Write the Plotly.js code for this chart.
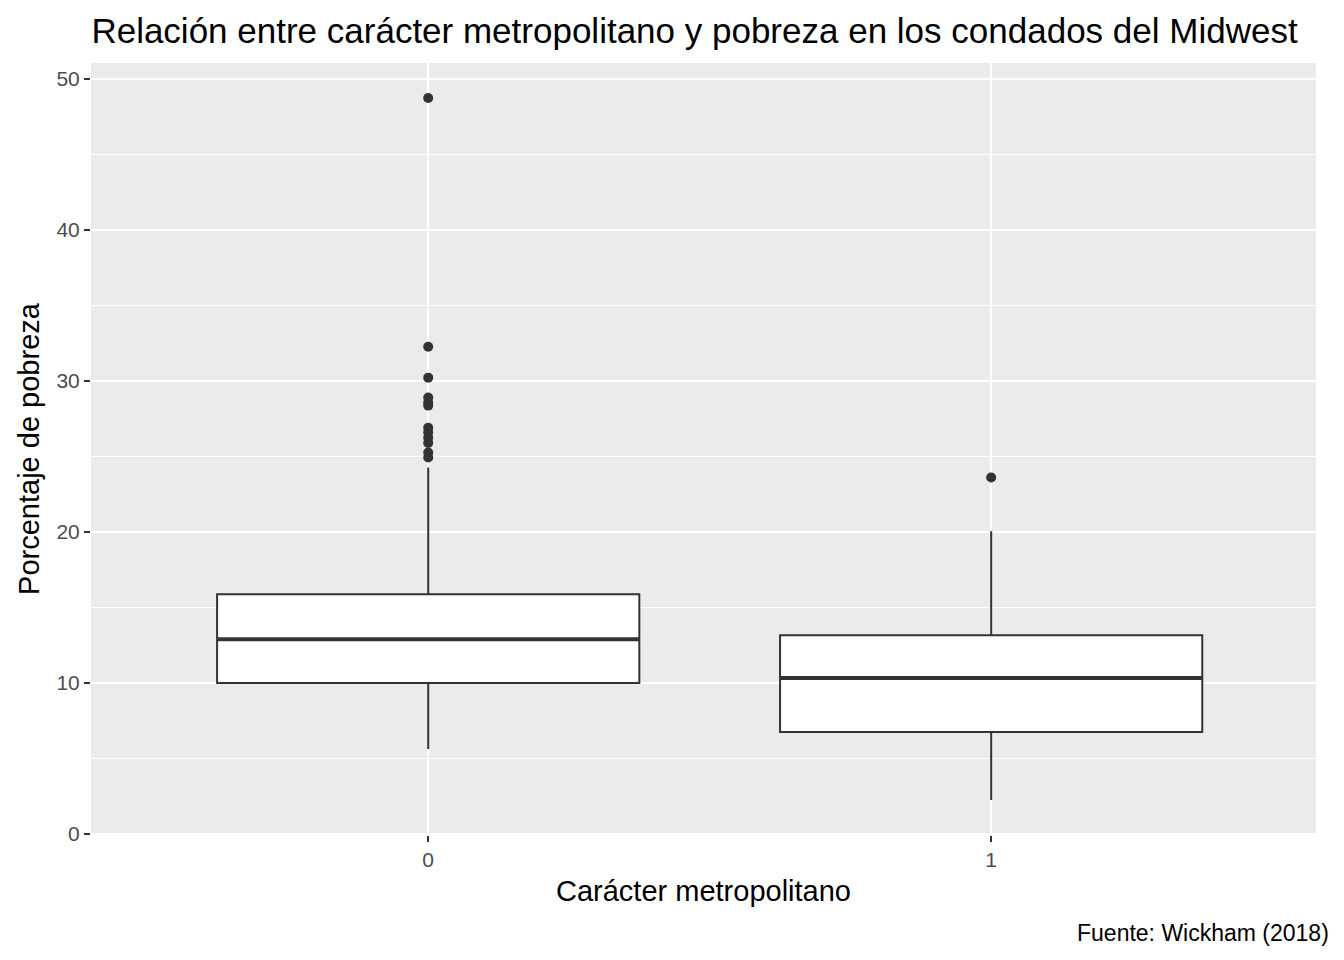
<!DOCTYPE html>
<html>
<head>
<meta charset="utf-8">
<script src="https://cdn.plot.ly/plotly-3.0.1.min.js"></script>
<style>html,body{margin:0;padding:0;background:#fff;}</style>
</head>
<body>
<div id="chart" style="width:1344px;height:960px;"></div>
<script>
// Box statistics
const groups = [0, 1];
const q1 = [9.99, 6.75];
const medians = [12.9, 10.32];
const q3 = [15.87, 13.16];
const lowerFence = [5.62, 2.25];
const upperFence = [24.27, 20.04];

// Outliers
const outX = [0, 0, 0, 0, 0, 0, 0, 0, 0, 0, 0, 0, 1];
const outY = [48.74, 32.27, 30.22, 28.9, 28.57, 28.37, 26.9, 26.6, 26.26, 25.9, 25.26, 24.93, 23.61];

const boxWidth = 0.75;
const ink = '#333333';

const traces = [{
  type: 'box',
  x: groups,
  q1: q1, median: medians, q3: q3,
  lowerfence: lowerFence, upperfence: upperFence,
  width: boxWidth,
  whiskerwidth: 0,
  boxpoints: false,
  fillcolor: '#ffffff',
  line: { color: ink, width: 2 },
  hoverinfo: 'skip'
}, {
  type: 'scatter', mode: 'markers',
  x: outX, y: outY,
  marker: { color: ink, size: 10 },
  hoverinfo: 'skip'
}];

// thicker median lines, as ggplot draws them
groups.forEach((g, i) => {
  traces.push({
    type: 'scatter', mode: 'lines',
    x: [g - boxWidth / 2, g + boxWidth / 2],
    y: [medians[i], medians[i]],
    line: { color: ink, width: 4 },
    hoverinfo: 'skip'
  });
});

const layout = {
  width: 1344, height: 960,
  showlegend: false,
  paper_bgcolor: '#ffffff',
  plot_bgcolor: '#ebebeb',
  font: { family: 'Liberation Sans, Arial, sans-serif', color: '#000' },
  margin: { l: 91, r: 28, t: 63, b: 125 },
  title: {
    text: 'Relación entre carácter metropolitano y pobreza en los condados del Midwest',
    font: { size: 35, color: '#000' },
    x: 0.068, xanchor: 'left', y: 0.968, yanchor: 'middle'
  },
  xaxis: {
    range: [-0.599, 1.577],
    tickvals: groups, ticktext: ['0', '1'],
    showgrid: true, gridcolor: '#ffffff', gridwidth: 2,
    zeroline: false,
    ticks: 'outside', ticklen: 6, tickcolor: ink, tickwidth: 1.5,
    tickfont: { size: 21, color: '#4d4d4d' },
    title: { text: 'Carácter metropolitano', font: { size: 29, color: '#000' }, standoff: 10 }
  },
  yaxis: {
    range: [-0.07, 51.06],
    tickvals: [0, 10, 20, 30, 40, 50],
    showgrid: true, gridcolor: '#ffffff', gridwidth: 2,
    minor: { tickvals: [5, 15, 25, 35, 45], showgrid: true, gridcolor: '#ffffff', gridwidth: 1, ticks: '' },
    zeroline: false,
    ticks: 'outside', ticklen: 6, tickcolor: ink, tickwidth: 1.5,
    tickfont: { size: 21, color: '#4d4d4d' },
    title: { text: 'Porcentaje de pobreza', font: { size: 29, color: '#000' }, standoff: 8 }
  },
  annotations: [{
    text: 'Fuente: Wickham (2018)',
    xref: 'paper', yref: 'paper', x: 1.012, y: -0.127,
    xanchor: 'right', yanchor: 'middle', showarrow: false,
    font: { size: 23, color: '#000' }
  }]
};

Plotly.newPlot('chart', traces, layout, { displayModeBar: false });
</script>
</body>
</html>
